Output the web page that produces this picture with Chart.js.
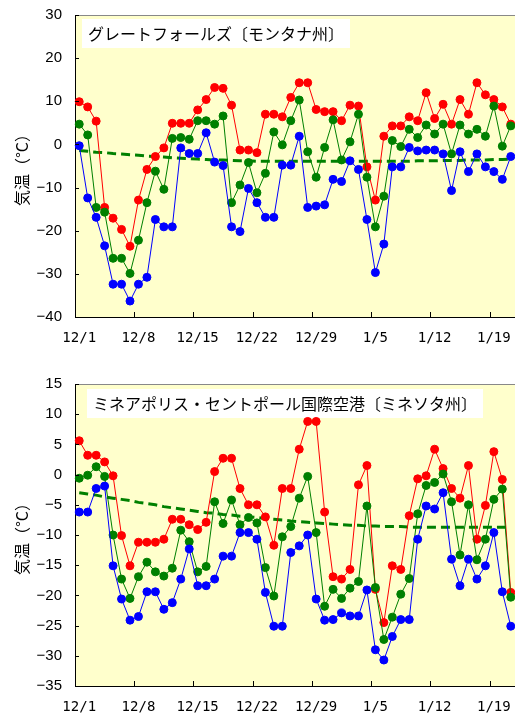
<!DOCTYPE html>
<html>
<head>
<meta charset="utf-8">
<script src="https://cdn.jsdelivr.net/npm/chart.js@4.4.1/dist/chart.umd.min.js"></script>
<style>
  body { margin: 0; background: #fff; }
  canvas { display: block; }
</style>
</head>
<body>
<canvas id="gf" width="515" height="359"></canvas>
<canvas id="msp" width="515" height="359"></canvas>
<script>
'use strict';

// 12/1 - 1/21
const days = [
  '12/1', '12/2', '12/3', '12/4', '12/5', '12/6', '12/7', '12/8', '12/9', '12/10',
  '12/11', '12/12', '12/13', '12/14', '12/15', '12/16', '12/17', '12/18', '12/19', '12/20',
  '12/21', '12/22', '12/23', '12/24', '12/25', '12/26', '12/27', '12/28', '12/29', '12/30', '12/31',
  '1/1', '1/2', '1/3', '1/4', '1/5', '1/6', '1/7', '1/8', '1/9', '1/10',
  '1/11', '1/12', '1/13', '1/14', '1/15', '1/16', '1/17', '1/18', '1/19', '1/20', '1/21'
];

// グレートフォールズ
const gfHigh = [
  9.9, 8.7, 5.4, -14.6, -17.1, -19.7, -23.6, -12.9, -5.8, -2.8,
  -0.8, 4.9, 4.9, 4.9, 8.0, 10.4, 13.2, 13.0, 9.1, -1.3,
  -1.3, -1.9, 7.0, 7.0, 6.4, 10.9, 14.3, 14.3, 8.1, 7.6, 7.6,
  5.5, 9.1, 8.9, -5.2, -12.9, 1.9, 4.3, 4.3, 6.4, 5.5,
  12.0, 6.0, 9.3, 4.7, 10.4, 7.0, 14.3, 11.5, 10.4, 8.7, 4.7
];
const gfMean = [
  4.7, 2.2, -14.6, -15.7, -26.4, -26.4, -29.9, -22.2, -13.5, -6.2,
  -10.4, 1.4, 1.6, 1.2, 5.5, 5.5, 4.7, 6.6, -13.5, -9.4,
  -4.2, -11.2, -6.7, 2.9, -0.1, 5.5, 10.3, -1.7, -7.6, -0.7, 5.7,
  -3.6, 0.6, 7.0, -7.6, -19.1, -12.0, 0.9, -0.5, 3.5, 1.6,
  4.5, 2.4, 4.7, -2.2, 4.5, 2.4, 3.5, 1.9, 8.9, -0.4, 4.3
];
const gfLow = [
  -0.3, -12.4, -16.9, -23.5, -32.4, -32.4, -36.3, -32.4, -30.8, -17.4,
  -19.1, -19.1, -0.8, -2.1, -2.1, 2.7, -4.1, -4.9, -19.1, -20.2,
  -10.2, -13.5, -16.9, -16.9, -4.8, -4.8, 1.9, -14.6, -14.3, -14.0, -8.1,
  -8.6, -3.8, -5.8, -17.4, -29.7, -23.1, -5.2, -5.2, -0.7, -1.5,
  -1.3, -1.3, -2.2, -10.7, -1.7, -6.3, -2.2, -5.2, -6.3, -8.1, -2.8
];
const gfNormal = [
  -1.4, -1.6, -1.8, -1.9, -2.1, -2.2, -2.4, -2.5, -2.7, -2.8,
  -2.9, -3.1, -3.2, -3.3, -3.4, -3.5, -3.6, -3.6, -3.7, -3.8,
  -3.8, -3.9, -3.9, -3.9, -3.9, -3.9, -3.9, -3.9, -3.9, -3.9, -3.9,
  -3.9, -3.9, -3.9, -3.9, -3.9, -3.9, -3.9, -3.9, -3.9, -3.8,
  -3.8, -3.8, -3.7, -3.7, -3.7, -3.6, -3.6, -3.6, -3.5, -3.5, -3.4
];

// ミネアポリス・セントポール
const mspHigh = [
  5.6, 3.2, 3.2, 2.1, -0.2, -10.1, -15.1, -11.2, -11.2, -11.2,
  -10.7, -7.4, -7.4, -8.3, -9.1, -7.9, 0.5, 2.7, 2.7, -2.3,
  -5.0, -5.0, -7.0, -11.7, -2.3, -2.3, 4.2, 8.8, 8.8, -6.2, -16.9,
  -17.3, -15.7, -1.7, 1.5, -19.0, -24.5, -15.1, -15.7, -6.8, -0.7,
  -0.2, 4.2, 1.0, -2.3, -3.9, 1.5, -10.7, -5.1, 3.8, -0.8, -19.5
];
const mspMean = [
  -0.6, -0.1, 1.3, -0.3, -10.0, -17.3, -20.5, -16.9, -14.5, -16.1,
  -16.8, -15.5, -9.2, -11.1, -16.1, -15.2, -4.5, -8.1, -4.2, -8.3,
  -7.1, -8.0, -15.4, -20.1, -10.3, -8.6, -3.9, -0.3, -9.6, -21.8, -19.0,
  -20.5, -18.8, -17.7, -5.2, -18.7, -27.3, -23.6, -19.8, -17.2, -6.5,
  -1.8, -1.3, 0.1, -4.5, -13.3, -5.0, -14.1, -10.7, -4.1, -2.4, -20.3
];
const mspLow = [
  -6.2, -6.2, -2.3, -1.9, -15.1, -20.6, -24.1, -23.5, -19.4, -19.4,
  -22.3, -21.2, -17.3, -12.3, -18.4, -18.4, -17.3, -13.5, -13.5, -9.6,
  -9.6, -10.7, -19.5, -25.1, -25.1, -12.9, -11.8, -10.0, -20.6, -24.1, -24.0,
  -22.9, -23.4, -23.4, -19.1, -29.0, -30.7, -26.8, -24.0, -24.0, -10.7,
  -5.2, -5.7, -3.0, -14.0, -18.4, -14.0, -17.3, -15.1, -9.6, -19.4, -25.1
];
const mspNormal = [
  -3.0, -3.2, -3.4, -3.7, -3.9, -4.1, -4.3, -4.6, -4.8, -5.0,
  -5.3, -5.5, -5.7, -5.9, -6.1, -6.3, -6.4, -6.6, -6.7, -6.9,
  -7.0, -7.1, -7.3, -7.4, -7.5, -7.7, -7.8, -7.9, -8.0, -8.1, -8.2,
  -8.3, -8.4, -8.4, -8.5, -8.5, -8.6, -8.6, -8.6, -8.7, -8.7,
  -8.7, -8.7, -8.7, -8.7, -8.7, -8.7, -8.7, -8.7, -8.7, -8.7, -8.7
];

const gfTicks = { min: -40, max: 30, step: 10 };
const mspTicks = { min: -35, max: 15, step: 5 };

// plot background, top border, inward tick marks and the station label box
const frame = {
  id: 'frame',
  beforeDraw(chart) {
    let ctx = chart.ctx;
    let a = chart.chartArea;
    ctx.save();
    ctx.fillStyle = '#FFFFCC';
    ctx.fillRect(a.left, a.top, a.right - a.left, a.bottom - a.top);
    ctx.restore();
  },
  beforeDatasetsDraw(chart, args, opts) {
    let ctx = chart.ctx;
    let a = chart.chartArea;
    ctx.save();
    ctx.font = '16px "Noto Sans CJK JP"';
    let w = ctx.measureText(opts.text).width;
    ctx.fillStyle = '#fff';
    ctx.fillRect(a.left + opts.dx, a.top + opts.dy, w + 12, 29);
    ctx.fillStyle = '#000';
    ctx.textBaseline = 'middle';
    ctx.fillText(opts.text, a.left + opts.dx + 6, a.top + opts.dy + 15);
    ctx.restore();
  },
  afterDraw(chart) {
    let ctx = chart.ctx;
    let a = chart.chartArea;
    let xs = chart.scales.x;
    let ys = chart.scales.y;
    ctx.save();
    ctx.lineWidth = 1;
    ctx.strokeStyle = '#888';
    ctx.beginPath();
    ctx.moveTo(a.left, a.top + 0.5);
    ctx.lineTo(a.right, a.top + 0.5);
    ctx.stroke();

    ctx.strokeStyle = '#000';
    ctx.beginPath();
    ys.ticks.forEach(function (t) {
      let y = Math.round(ys.getPixelForValue(t.value)) + 0.5;
      ctx.moveTo(a.left, y);
      ctx.lineTo(a.left + 4, y);
    });
    let step = xs.getPixelForValue(1) - xs.getPixelForValue(0);
    for (let i = 7; i < days.length; i += 7) {
      let px = Math.round(xs.getPixelForValue(i) - step / 2) + 0.5;
      ctx.moveTo(px, a.bottom);
      ctx.lineTo(px, a.bottom - 5);
    }
    ctx.stroke();
    ctx.restore();
  }
};

function series(data, color, order) {
  return {
    data: data,
    borderColor: color,
    backgroundColor: color,
    borderWidth: 1,
    pointRadius: 4,
    pointBorderWidth: 1,
    pointBorderColor: color,
    pointBackgroundColor: color,
    order: order
  };
}

function makeChart(id, title, high, mean, low, normal, yt, padTop, xHeight, box) {
  let ctx = document.getElementById(id).getContext('2d');
  return new Chart(ctx, {
    type: 'line',
    data: {
      labels: days,
      datasets: [
        series(low, '#0000FF', 0),
        series(mean, '#008000', 1),
        series(high, '#FF0000', 2),
        {
          data: normal,
          borderColor: '#008000',
          borderWidth: 3,
          borderDash: [9, 5],
          pointRadius: 0,
          order: 3
        }
      ]
    },
    options: {
      responsive: false,
      animation: false,
      layout: { autoPadding: false, padding: { top: padTop, left: 0, right: 0, bottom: 0 } },
      plugins: {
        legend: { display: false },
        tooltip: { enabled: false },
        frame: { text: title, dx: box[0], dy: box[1] }
      },
      scales: {
        x: {
          offset: true,
          grid: { display: true, offset: true, drawOnChartArea: false, drawTicks: true, tickLength: 13, tickColor: 'transparent' },
          border: { display: true, color: '#000', width: 1 },
          ticks: {
            autoSkip: false,
            maxRotation: 0,
            padding: 0,
            color: '#000',
            font: { family: '"DejaVu Sans Mono"', size: 14 },
            callback: function (v, i) { return i % 7 === 0 ? days[i] : ''; }
          },
          afterFit: function (s) { s.height = xHeight; }
        },
        y: {
          min: yt.min,
          max: yt.max,
          grid: { display: true, drawOnChartArea: false, drawTicks: true, tickLength: 13, tickColor: 'transparent' },
          border: { display: true, color: '#000', width: 1 },
          ticks: {
            stepSize: yt.step,
            padding: 0,
            color: '#000',
            font: { family: '"Liberation Sans"', size: 15 },
            callback: function (v) { return String(v).replace('-', '\u2212'); }
          },
          title: {
            display: true,
            text: '気温（°C）',
            color: '#000',
            font: { family: '"Noto Sans CJK JP"', size: 16, lineHeight: 1.2 },
            padding: { top: 12, bottom: 0 }
          },
          afterFit: function (s) { s.width = 75; }
        }
      }
    },
    plugins: [frame]
  });
}

makeChart('gf', 'グレートフォールズ〔モンタナ州〕', gfHigh, gfMean, gfLow, gfNormal, gfTicks, 15, 42, [7, 4]);
makeChart('msp', 'ミネアポリス・セントポール国際空港〔ミネソタ州〕', mspHigh, mspMean, mspLow, mspNormal, mspTicks, 25, 32, [12, 5]);
</script>
</body>
</html>
